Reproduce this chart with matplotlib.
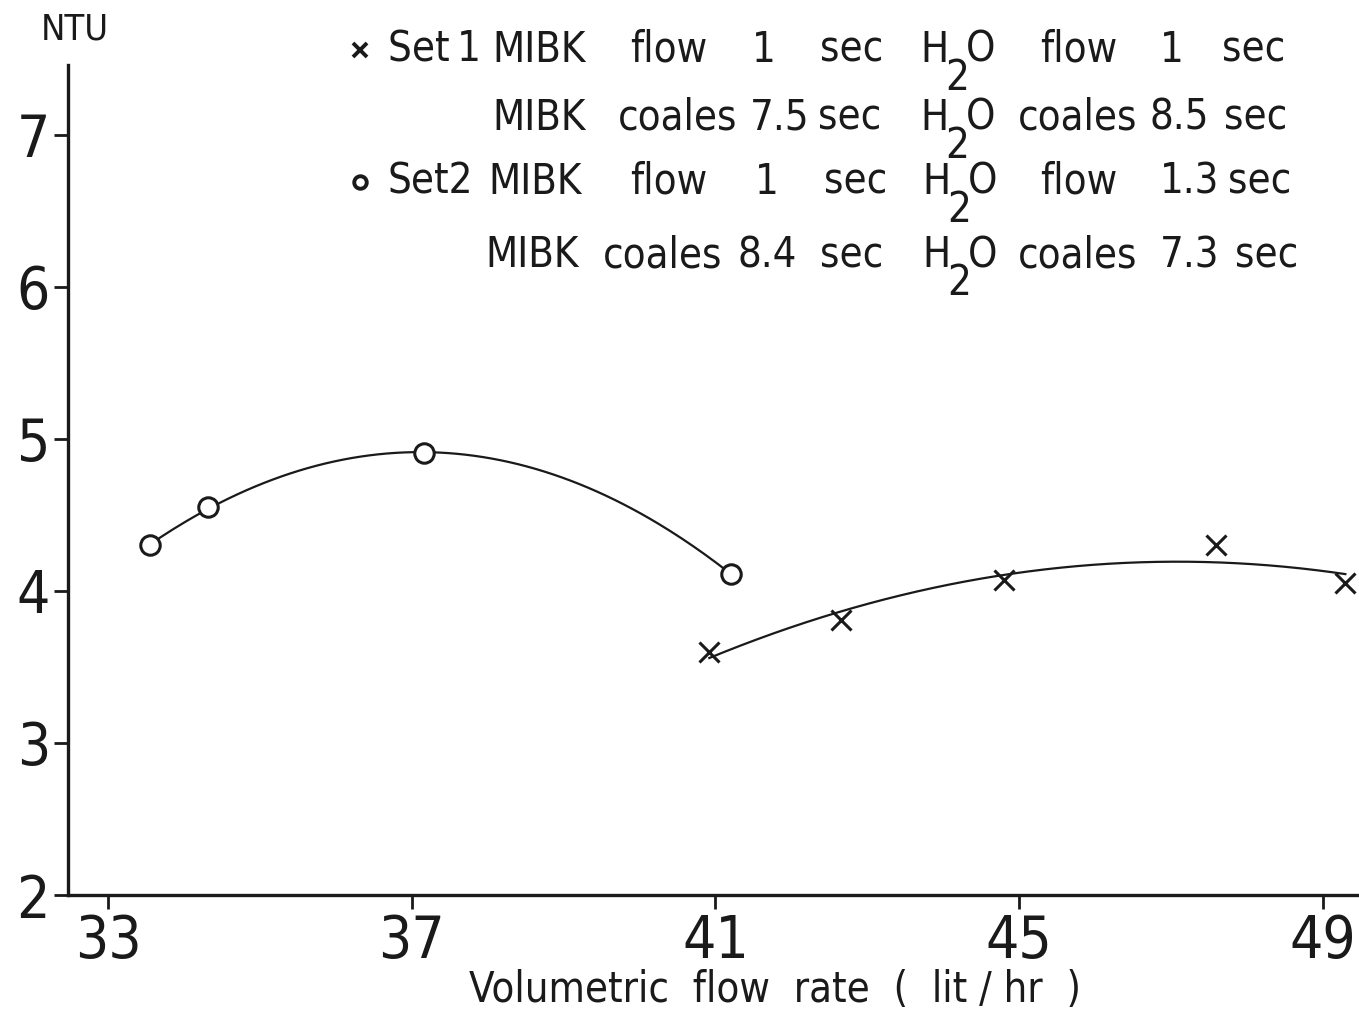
import numpy as np
import matplotlib
matplotlib.use('Agg')
import matplotlib.pyplot as plt
from matplotlib import font_manager

# data
set1_x = [40.92, 42.66, 44.80, 47.60, 49.30]
set1_y = [3.60, 3.81, 4.07, 4.30, 4.05]
set2_x = [33.55, 34.32, 37.16, 41.21]
set2_y = [4.30, 4.55, 4.91, 4.11]

x_ticks = [33, 37, 41, 45, 49]
y_ticks = [2, 3, 4, 5, 6, 7]

# legend rows: (text, x pixel) pieces; 'H2O' is drawn with a deep subscript
legend_rows = [
	[('Set\u20091', 388), ('MIBK', 492), ('flow', 630), ('1', 752), ('sec', 820), ('H2O', 920), ('flow', 1040), ('1', 1160), ('sec', 1222)],
	[('MIBK', 492), ('coales', 618), ('7.5', 750), ('sec', 818), ('H2O', 920), ('coales', 1018), ('8.5', 1150), ('sec', 1224)],
	[('Set2', 388), ('MIBK', 488), ('flow', 630), ('1', 755), ('sec', 824), ('H2O', 922), ('flow', 1040), ('1.3', 1160), ('sec', 1228)],
	[('MIBK', 485), ('coales', 603), ('8.4', 738), ('sec', 820), ('H2O', 922), ('coales', 1018), ('7.3', 1160), ('sec', 1235)],
]
legend_row_y = [50, 118, 182, 255]

# use the condensed sans face if the system has one
cond = [f for f in font_manager.fontManager.ttflist
	if f.name == 'DejaVu Sans' and f.stretch == 'condensed' and f.style == 'normal']
narrow = len(cond) > 0
plt.rcParams['font.family'] = ['DejaVu Sans']
if narrow:
	plt.rcParams['font.stretch'] = 'condensed'

W, H = 1359, 1013
fig = plt.figure(figsize = (W / 100, H / 100), dpi = 100)
ax = fig.add_axes([68 / W, 1 - 895 / H, 1 - 68 / W, (895 - 65) / H])

ink = '#1a1a1a'

# fitted smooth curves
for xs, ys in [(set1_x, set1_y), (set2_x, set2_y)]:
	c = np.polyfit(xs, ys, 2)
	xx = np.linspace(min(xs), max(xs), 200)
	ax.plot(xx, np.polyval(c, xx), color = ink, lw = 1.6)

ax.plot(set1_x, set1_y, ls = 'none', marker = 'x', ms = 15, mew = 2.2, color = ink)
ax.plot(set2_x, set2_y, ls = 'none', marker = 'o', ms = 14, mew = 2.2, mfc = 'white', color = ink)

tick_fs = 42 if narrow else 39
fs = 30 if narrow else 27

ax.set_xlim(32.47, 49.48)
ax.set_ylim(2, 7.46)
ax.set_xticks(x_ticks)
ax.set_yticks(y_ticks)
ax.tick_params(axis = 'both', direction = 'out', length = 10, width = 2, colors = ink, labelsize = tick_fs)
ax.tick_params(axis = 'x', pad = 3)
ax.tick_params(axis = 'y', pad = 3)
for s in ['top', 'right']:
	ax.spines[s].set_visible(False)
for s in ['left', 'bottom']:
	ax.spines[s].set_linewidth(2.4)
	ax.spines[s].set_color(ink)

fig.text(75 / W, 1 - 30 / H, 'NTU', fontsize = fs - 4, color = ink, va = 'center', ha = 'center')
fig.text(775 / W, 1 - 990 / H, 'Volumetric  flow  rate  (  lit / hr  )', fontsize = fs, color = ink, va = 'center', ha = 'center')

# legend block
for row, yp in zip(legend_rows, legend_row_y):
	for txt, xp in row:
		if txt == 'H2O':
			fig.text(xp / W, 1 - yp / H, 'H', fontsize = fs, color = ink, va = 'center', ha = 'left')
			fig.text((xp + 25) / W, 1 - (yp + 28) / H, '2', fontsize = fs, color = ink, va = 'center', ha = 'left')
			fig.text((xp + 46) / W, 1 - yp / H, 'O', fontsize = fs, color = ink, va = 'center', ha = 'left')
		else:
			fig.text(xp / W, 1 - yp / H, txt, fontsize = fs, color = ink, va = 'center', ha = 'left')

# legend symbols
fig.lines.append(plt.Line2D([360 / W], [1 - 50 / H], transform = fig.transFigure, marker = 'x', ms = 10, mew = 2.8, color = ink))
fig.lines.append(plt.Line2D([360 / W], [1 - 182 / H], transform = fig.transFigure, marker = 'o', ms = 9, mew = 2.8, mfc = 'white', color = ink))

fig.savefig('out.png', dpi = 100)
